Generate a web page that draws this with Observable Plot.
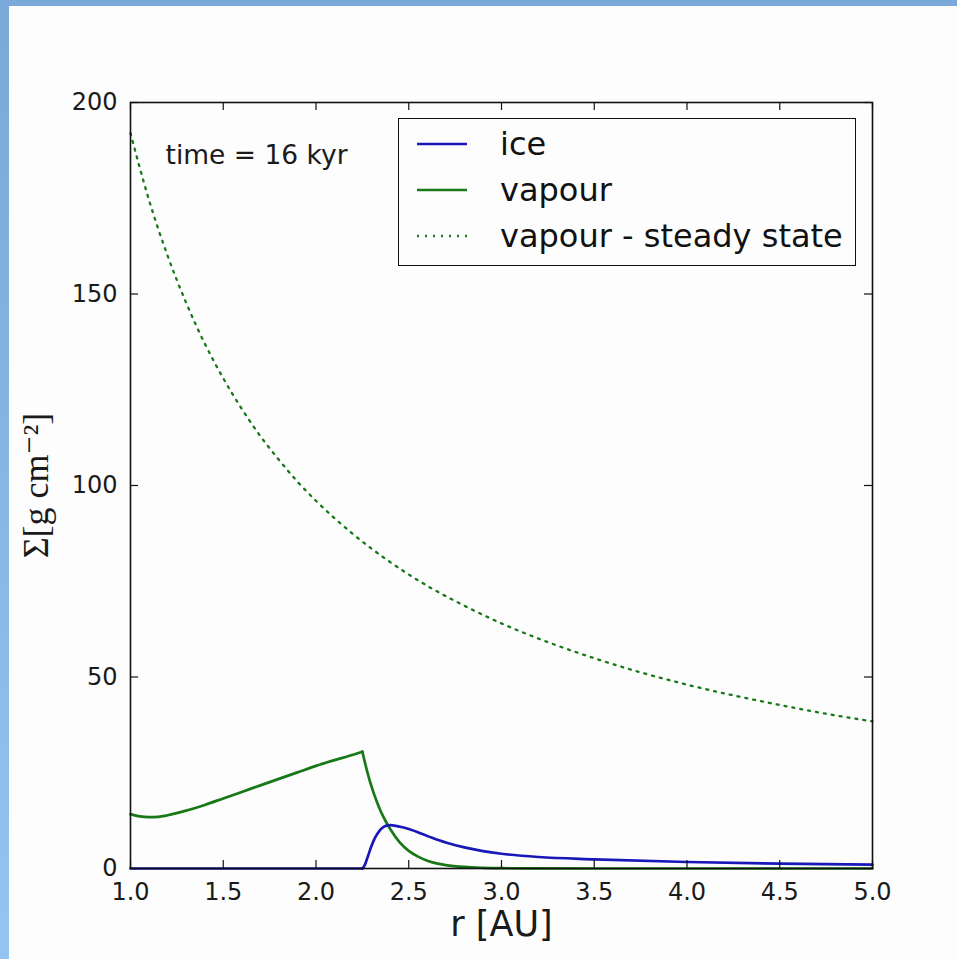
<!DOCTYPE html>
<html>
<head>
<meta charset="utf-8">
<script src="https://cdn.jsdelivr.net/npm/d3@7"></script>
<script src="https://cdn.jsdelivr.net/npm/@observablehq/plot@0.6"></script>
<style>
  html, body { margin: 0; padding: 0; background: #fdfdfd; overflow: hidden; }
  #wrap { position: relative; width: 957px; height: 959px; background: #fdfdfd; }
  #topbar { position: absolute; left: 0; top: 0; width: 957px; height: 6px; background: #7aa9da; z-index: 3; }
  #leftbar { position: absolute; left: 0; top: 0; width: 9px; height: 959px; background: linear-gradient(#7aa8d8, #93c4f3); z-index: 3; }
  #legend { position: absolute; left: 398px; top: 118px; width: 456px; height: 146px; border: 1.5px solid #111; background: #fdfdfd; z-index: 2;
            font-family: "DejaVu Sans", sans-serif; font-size: 32px; color: #111; }
  .row { position: absolute; left: 0; height: 40px; width: 100%; }
  .row svg { position: absolute; left: 18px; top: 0; }
  .row span { position: absolute; left: 101px; top: 0; line-height: 40px; white-space: nowrap; }
</style>
</head>
<body>
<div id="wrap">
  <div id="topbar"></div>
  <div id="leftbar"></div>
  <div id="chart"></div>
  <div id="legend"></div>
</div>
<script>
// ---- data ----
const xTicks = [1.0, 1.5, 2.0, 2.5, 3.0, 3.5, 4.0, 4.5, 5.0];
const yTicks = [0, 50, 100, 150, 200];

// ice surface density (flat part, then the rising/decaying part)
const iceFlatR = [1.0, 1.5, 2.0, 2.25];
const iceFlatS = [0, 0, 0, 0];
const iceR = [2.25, 2.26, 2.27, 2.28, 2.30, 2.32, 2.34, 2.36, 2.38, 2.40, 2.43, 2.46, 2.5, 2.6, 2.7, 2.8, 2.9, 3.0, 3.2, 3.5, 4.0, 4.5, 5.0];
const iceS = [0, 0.6, 1.8, 3.2, 6.0, 8.2, 9.7, 10.7, 11.2, 11.3, 11.15, 10.85, 10.3, 8.5, 6.8, 5.5, 4.55, 3.85, 3.0, 2.4, 1.7, 1.25, 1.0];

// vapour surface density (inner part up to the peak, then the outer part)
const vapInR = [1.0, 1.05, 1.1, 1.15, 1.2, 1.3, 1.4, 1.5, 1.6, 1.7, 1.8, 1.9, 2.0, 2.1, 2.2, 2.25];
const vapInS = [14.2, 13.6, 13.4, 13.5, 13.9, 15.1, 16.6, 18.3, 20.0, 21.7, 23.4, 25.1, 26.8, 28.3, 29.7, 30.5];
const vapOutR = [2.25, 2.275, 2.3, 2.325, 2.35, 2.375, 2.4, 2.45, 2.5, 2.55, 2.6, 2.65, 2.7, 2.8, 2.9, 3.0, 3.2, 3.5, 4.0, 4.5, 5.0];
const vapOutS = [30.5, 25.5, 21.3, 17.8, 14.8, 12.4, 10.3, 6.9, 4.6, 3.1, 2.05, 1.35, 0.9, 0.4, 0.18, 0.08, 0.02, 0, 0, 0, 0];

// vapour steady state
const steadyR = [1.0, 1.1, 1.2, 1.3, 1.4, 1.5, 1.6, 1.7, 1.8, 1.9, 2.0, 2.2, 2.4, 2.6, 2.8, 3.0, 3.25, 3.5, 3.75, 4.0, 4.25, 4.5, 4.75, 5.0];
const steadyS = [192, 174.5, 160, 147.7, 137.1, 128, 120, 112.9, 106.7, 101, 96, 87.3, 80, 73.8, 68.6, 64, 59.1, 54.9, 51.2, 48, 45.2, 42.7, 40.4, 38.4];

const seriesNames = ["ice", "vapour", "vapour - steady state"];
const timeLabel = "time = 16 kyr";
const xLabel = "r [AU]";
const yLabel = "Σ[g cm⁻²]";

const BLUE = "#1818b8";
const GREEN = "#187818";
const DOTS = "2,6";

const toRows = (rs, ss) => rs.map((r, i) => ({r, s: ss[i]}));
const iceFlat = toRows(iceFlatR, iceFlatS);
const iceMain = toRows(iceR, iceS);
const vapIn = toRows(vapInR, vapInS);
const vapOut = toRows(vapOutR, vapOutS);
const steady = toRows(steadyR, steadyS);

const W = 957, H = 959, ML = 130, MR = 85, MT = 102, MB = 91;
const FW = W - ML - MR, FH = H - MT - MB, TICK = 8;

const chart = Plot.plot({
  width: W, height: H,
  marginLeft: ML, marginRight: MR, marginTop: MT, marginBottom: MB,
  style: {background: "transparent", fontFamily: "DejaVu Sans, sans-serif", fontSize: "24px", color: "#1a1a1a"},
  x: {domain: [1, 5]},
  y: {domain: [0, 200]},
  marks: [
    Plot.line(steady, {x: "r", y: "s", stroke: GREEN, strokeWidth: 2.3, strokeDasharray: DOTS, curve: "monotone-x"}),
    Plot.line(vapIn, {x: "r", y: "s", stroke: GREEN, strokeWidth: 2.7, curve: "monotone-x"}),
    Plot.line(vapOut, {x: "r", y: "s", stroke: GREEN, strokeWidth: 2.7, curve: "monotone-x"}),
    Plot.line(iceFlat, {x: "r", y: "s", stroke: BLUE, strokeWidth: 2.7}),
    Plot.line(iceMain, {x: "r", y: "s", stroke: BLUE, strokeWidth: 2.7, curve: "monotone-x"}),
    Plot.tickX(xTicks, {x: d => d, insetTop: FH - TICK, stroke: "#111", strokeWidth: 1.2}),
    Plot.tickX(xTicks, {x: d => d, insetBottom: FH - TICK, stroke: "#111", strokeWidth: 1.2}),
    Plot.tickY(yTicks, {y: d => d, insetRight: FW - TICK, stroke: "#111", strokeWidth: 1.2}),
    Plot.tickY(yTicks, {y: d => d, insetLeft: FW - TICK, stroke: "#111", strokeWidth: 1.2}),
    Plot.axisX({ticks: xTicks, tickFormat: d => d.toFixed(1), tickSize: 0, tickPadding: 14, label: null, fontSize: 24}),
    Plot.axisY({ticks: yTicks, tickFormat: d => String(d), tickSize: 0, tickPadding: 13, label: null, fontSize: 24}),
    Plot.frame({stroke: "#111", strokeWidth: 1.6}),
    Plot.text([timeLabel], {frameAnchor: "top-left", dx: 35, dy: 53, textAnchor: "start", lineAnchor: "middle", fontSize: 26.5, fill: "#1a1a1a"}),
    Plot.text([xLabel], {frameAnchor: "bottom", dy: 67, fontSize: 35, fill: "#1a1a1a"}),
    Plot.text([yLabel], {frameAnchor: "left", dx: -94, rotate: -90, textAnchor: "middle", fontSize: 36, fontFamily: "Liberation Serif, DejaVu Serif, serif", fill: "#1a1a1a"})
  ]
});
document.getElementById("chart").appendChild(chart);

// legend (HTML, inside the plot frame)
const legendStyles = [
  {stroke: BLUE, dash: null},
  {stroke: GREEN, dash: null},
  {stroke: GREEN, dash: DOTS}
];
const legend = document.getElementById("legend");
const rowTops = [5, 51, 97];
seriesNames.forEach((name, i) => {
  const row = document.createElement("div");
  row.className = "row";
  row.style.top = rowTops[i] + "px";
  const ns = "http://www.w3.org/2000/svg";
  const svg = document.createElementNS(ns, "svg");
  svg.setAttribute("width", "50"); svg.setAttribute("height", "40");
  const ln = document.createElementNS(ns, "line");
  ln.setAttribute("x1", "0"); ln.setAttribute("x2", "50");
  ln.setAttribute("y1", "20"); ln.setAttribute("y2", "20");
  ln.setAttribute("stroke", legendStyles[i].stroke);
  ln.setAttribute("stroke-width", legendStyles[i].dash ? "2.3" : "2.7");
  if (legendStyles[i].dash) ln.setAttribute("stroke-dasharray", legendStyles[i].dash);
  svg.appendChild(ln);
  const sp = document.createElement("span");
  sp.textContent = name;
  row.appendChild(svg); row.appendChild(sp);
  legend.appendChild(row);
});
</script>
</body>
</html>
